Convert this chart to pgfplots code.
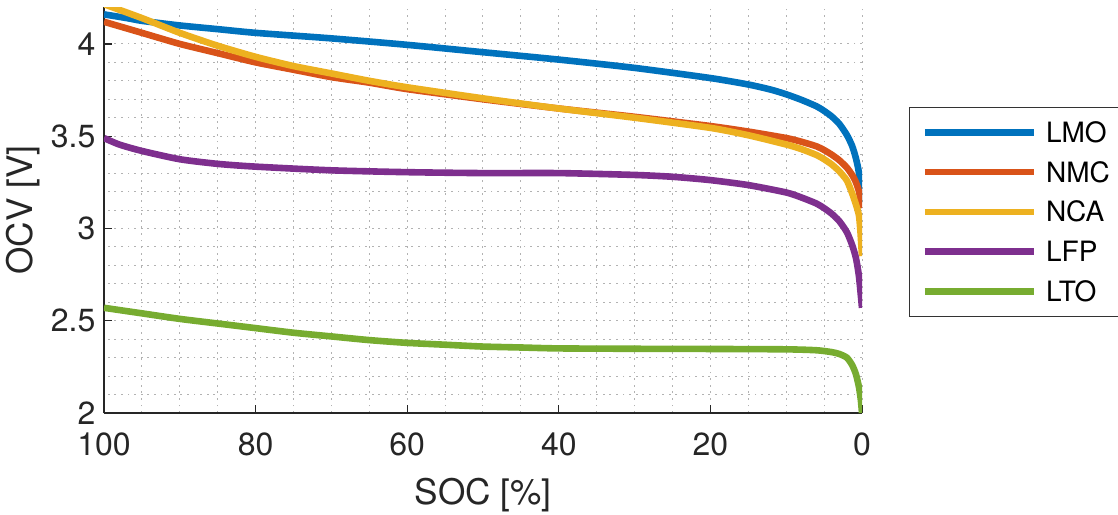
\documentclass[border=0pt]{standalone}
\usepackage{pgfplots}
\pgfplotsset{compat=1.18}
\usepackage{fontspec}
\setmainfont{TeX Gyre Heros}
\definecolor{cLMO}{rgb}{0,0.447,0.741}
\definecolor{cNMC}{rgb}{0.85,0.325,0.098}
\definecolor{cNCA}{rgb}{0.929,0.694,0.125}
\definecolor{cLFP}{rgb}{0.494,0.184,0.556}
\definecolor{cLTO}{rgb}{0.466,0.674,0.188}
\begin{document}
\begin{tikzpicture}
\begin{axis}[
  scale only axis, width=379pt, height=203pt,
  xmin=0, xmax=100, ymin=2, ymax=4.2,
  x dir=reverse,
  xtick={0,20,40,60,80,100},
  ytick={2,2.5,3,3.5,4},
  minor x tick num=3, minor y tick num=4,
  grid=both,
  major grid style={dash pattern=on 0.9pt off 2.4pt, line width=0.5pt, black!30},
  minor grid style={dash pattern=on 0.9pt off 2.4pt, line width=0.5pt, black!30},
  axis x line*=bottom, axis y line*=left,
  axis line style={black!85, line width=0.6pt},
  tick align=inside, major tick length=3.8pt, minor tick length=0pt,
  tick style={black!85, line width=0.6pt},
  /pgf/number format/assume math mode=true,
  ticklabel style={font=\fontsize{16}{16}\selectfont, text=black!85},
  xticklabel style={yshift=-6.5pt},
  yticklabel style={xshift=-0.8pt},
  xlabel={SOC [\%]}, ylabel={OCV [V]},
  every axis x label/.style={at={(axis description cs:0.5,-0.2266)}, anchor=base, font=\fontsize{17.6}{17.6}\selectfont, text=black!85},
  every axis y label/.style={at={(axis description cs:-0.0937,0.5)}, rotate=90, anchor=base, font=\fontsize{17.6}{17.6}\selectfont, text=black!85},
  legend style={at={(axis description cs:1.062,0.7537)}, anchor=north west,
    draw=black!80, line width=0.5pt, fill=white,
    inner xsep=6pt, inner ysep=2.4pt, row sep=0pt, column sep=4.5pt,
    font=\fontsize{14}{14}\selectfont,
    nodes={inner sep=0pt, text height=10pt, text depth=0pt, minimum height=19.9pt}},
  legend cell align=left,
  legend image code/.code={\draw[#1] (0pt,0pt) -- (54.5pt,0pt);},
  every axis plot/.append style={line width=3.3pt, line join=round, smooth, tension=0.4},
]
\addplot[cLMO] coordinates {(100,4.16)(97,4.14)(95,4.125)(90,4.10)(85,4.08)(80,4.06)(70,4.03)(60,3.995)(50,3.955)(40,3.915)(30,3.87)(20,3.815)(15,3.78)(12,3.752)(10,3.727)(8,3.697)(6,3.662)(5,3.637)(4,3.607)(3,3.567)(2,3.507)(1.3,3.447)(0.8,3.38)(0.4,3.30)(0,3.14)};
\addlegendentry{LMO}
\addplot[cNMC] coordinates {(100,4.12)(95,4.06)(90,4.00)(85,3.95)(80,3.90)(75,3.86)(70,3.82)(65,3.79)(60,3.755)(50,3.70)(40,3.65)(30,3.605)(20,3.555)(15,3.525)(10,3.49)(8,3.47)(6,3.445)(5,3.425)(4,3.40)(3,3.37)(2,3.33)(1.3,3.29)(0.8,3.25)(0.4,3.20)(0,3.11)};
\addlegendentry{NMC}
\addplot[cNCA] coordinates {(100,4.215)(95,4.14)(90,4.06)(85,3.99)(80,3.93)(75,3.88)(70,3.84)(65,3.80)(60,3.765)(50,3.705)(40,3.65)(30,3.60)(20,3.545)(15,3.505)(10,3.455)(8,3.43)(6,3.398)(5,3.375)(4,3.347)(3,3.31)(2,3.26)(1.3,3.19)(0.8,3.13)(0.4,3.07)(0.2,2.98)(0,2.85)};
\addlegendentry{NCA}
\addplot[cLFP] coordinates {(100,3.49)(98,3.455)(95,3.42)(90,3.375)(85,3.35)(80,3.335)(70,3.315)(60,3.305)(50,3.30)(40,3.30)(30,3.29)(25,3.28)(20,3.262)(15,3.235)(10,3.195)(8,3.168)(6,3.135)(5,3.11)(4,3.08)(3,3.04)(2,2.98)(1.3,2.91)(0.8,2.84)(0.4,2.74)(0,2.57)};
\addlegendentry{LFP}
\addplot[cLTO] coordinates {(100,2.57)(95,2.54)(90,2.51)(85,2.485)(80,2.46)(75,2.435)(70,2.415)(65,2.395)(60,2.38)(55,2.37)(50,2.36)(45,2.355)(40,2.35)(30,2.348)(20,2.347)(10,2.345)(6,2.34)(4,2.33)(3,2.32)(2,2.30)(1.3,2.26)(0.8,2.21)(0.4,2.14)(0.15,2.07)(0,2.0)};
\addlegendentry{LTO}
\end{axis}
\pgfresetboundingbox
\path[use as bounding box] (-52pt,-50.5pt) rectangle (507pt,206.5pt);
\end{tikzpicture}
\end{document}
